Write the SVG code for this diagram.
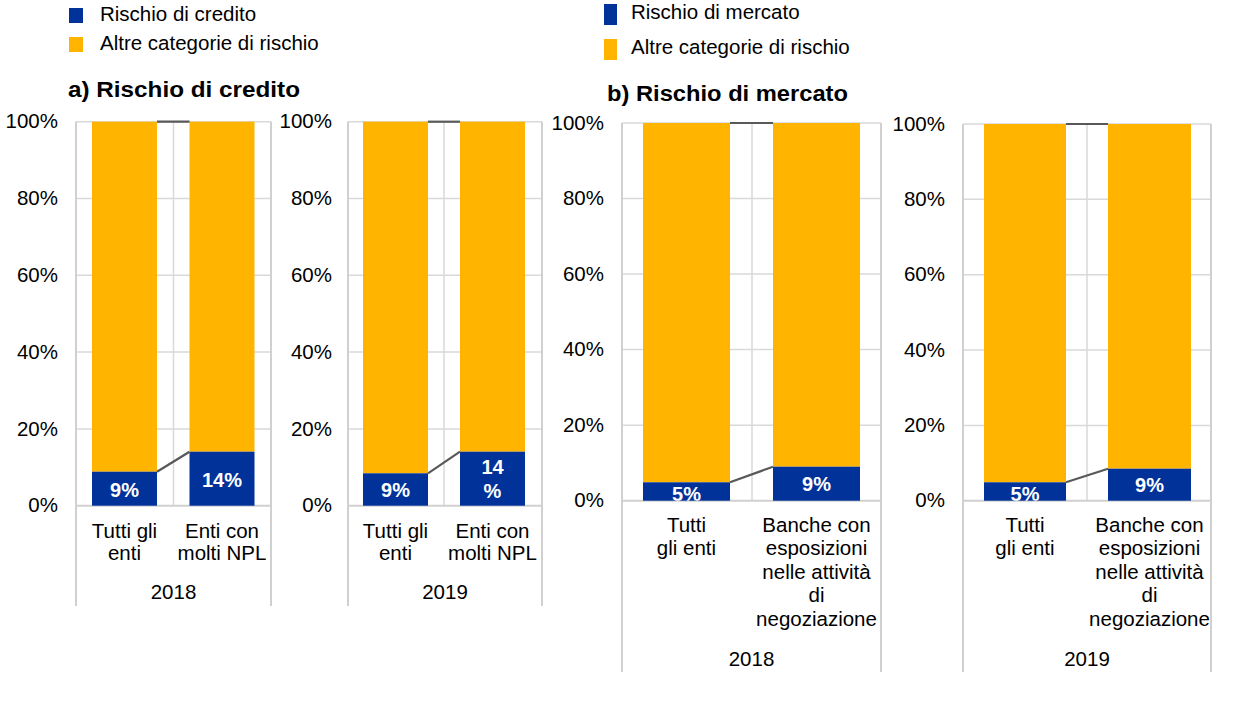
<svg xmlns="http://www.w3.org/2000/svg" width="1240" height="714" viewBox="0 0 1240 714">
<style>
text{font-family:"Liberation Sans",Arial,sans-serif;fill:#000}
.t{font-size:20.5px}
.ya{font-size:20.5px;text-anchor:end}
.c{font-size:20.5px;text-anchor:middle}
.v{font-size:20px;font-weight:bold;fill:#fff;text-anchor:middle}
.ti{font-size:22px;font-weight:bold}
.g{stroke:#D9D9D9;stroke-width:1.5;fill:none}
.ax{stroke:#D0D0D0;stroke-width:2;fill:none}
.blue{fill:#003299}
.or{fill:#FFB400}
.cn{stroke:#595959;stroke-width:2.2;fill:none}
</style>
<defs>
<clipPath id="cb1"><rect x="622" y="110" width="260" height="390.7"/></clipPath>
<clipPath id="cb2"><rect x="963" y="110" width="249" height="390.7"/></clipPath>
</defs>
<rect width="1240" height="714" fill="#fff"/>

<g id="legend-a">
<rect x="69" y="8" width="14" height="15" class="blue"/>
<text x="100" y="20.7" class="t">Rischio di credito</text>
<rect x="69" y="37" width="14" height="15" class="or"/>
<text x="100" y="49.5" class="t">Altre categorie di rischio</text>
</g>
<g id="legend-b">
<rect x="604" y="4" width="13" height="21" class="blue"/>
<text x="631" y="19" class="t">Rischio di mercato</text>
<rect x="604" y="39" width="13" height="21" class="or"/>
<text x="631" y="54" class="t">Altre categorie di rischio</text>
</g>

<text id="title-a" x="68" y="97" class="ti" textLength="232" lengthAdjust="spacingAndGlyphs">a) Rischio di credito</text>
<text id="title-b" x="607" y="101" class="ti" textLength="241" lengthAdjust="spacingAndGlyphs">b) Rischio di mercato</text>

<!-- Chart a 2018 -->
<g id="chart-a-2018">
<g class="g">
<line x1="76" y1="121.7" x2="271" y2="121.7"/>
<line x1="76" y1="198.5" x2="271" y2="198.5"/>
<line x1="76" y1="275.3" x2="271" y2="275.3"/>
<line x1="76" y1="352.1" x2="271" y2="352.1"/>
<line x1="76" y1="428.9" x2="271" y2="428.9"/>
<line x1="173.5" y1="121.7" x2="173.5" y2="505.7"/>
</g>
<g class="ax">
<line x1="76" y1="505.7" x2="271" y2="505.7"/>
<line x1="76" y1="121.7" x2="76" y2="606"/>
<line x1="271" y1="121.7" x2="271" y2="606"/>
</g>
<g class="ya">
<text x="58" y="128.3">100%</text>
<text x="58" y="205.1">80%</text>
<text x="58" y="281.9">60%</text>
<text x="58" y="358.7">40%</text>
<text x="58" y="435.5">20%</text>
<text x="58" y="512.3">0%</text>
</g>
<g id="a18-bar1">
<rect x="92" y="121.7" width="65" height="350" class="or"/>
<rect x="92" y="471.7" width="65" height="34" class="blue"/>
<text x="124.5" y="497.3" class="v">9%</text>
</g>
<g id="a18-bar2">
<rect x="189.5" y="121.7" width="65" height="330" class="or"/>
<rect x="189.5" y="451.7" width="65" height="54" class="blue"/>
<text x="222" y="487.3" class="v">14%</text>
</g>
<g class="c">
<text x="124.5" y="538.3">Tutti gli</text>
<text x="124.5" y="560.3">enti</text>
<text x="222" y="538.3">Enti con</text>
<text x="222" y="560.3">molti NPL</text>
<text x="173.5" y="599">2018</text>
</g>
</g>

<!-- Chart a 2019 -->
<g id="chart-a-2019">
<g class="g">
<line x1="348" y1="121.7" x2="542" y2="121.7"/>
<line x1="348" y1="198.5" x2="542" y2="198.5"/>
<line x1="348" y1="275.3" x2="542" y2="275.3"/>
<line x1="348" y1="352.1" x2="542" y2="352.1"/>
<line x1="348" y1="428.9" x2="542" y2="428.9"/>
<line x1="444" y1="121.7" x2="444" y2="505.7"/>
</g>
<g class="ax">
<line x1="348" y1="505.7" x2="542" y2="505.7"/>
<line x1="348" y1="121.7" x2="348" y2="606"/>
<line x1="542" y1="121.7" x2="542" y2="606"/>
</g>
<g class="ya">
<text x="332" y="128.3">100%</text>
<text x="332" y="205.1">80%</text>
<text x="332" y="281.9">60%</text>
<text x="332" y="358.7">40%</text>
<text x="332" y="435.5">20%</text>
<text x="332" y="512.3">0%</text>
</g>
<g id="a19-bar1">
<rect x="363" y="121.7" width="65" height="351.6" class="or"/>
<rect x="363" y="473.3" width="65" height="32.4" class="blue"/>
<text x="395.5" y="497.3" class="v">9%</text>
</g>
<g id="a19-bar2">
<rect x="460" y="121.7" width="65" height="330" class="or"/>
<rect x="460" y="451.7" width="65" height="54" class="blue"/>
<text x="492.5" y="474.3" class="v">14</text>
<text x="492.5" y="498.3" class="v">%</text>
</g>
<g class="c">
<text x="395.5" y="538.3">Tutti gli</text>
<text x="395.5" y="560.3">enti</text>
<text x="492.5" y="538.3">Enti con</text>
<text x="492.5" y="560.3">molti NPL</text>
<text x="445" y="599">2019</text>
</g>
</g>

<!-- Chart b 2018 -->
<g id="chart-b-2018">
<g class="g">
<line x1="622" y1="123" x2="881" y2="123"/>
<line x1="622" y1="198.5" x2="881" y2="198.5"/>
<line x1="622" y1="274.1" x2="881" y2="274.1"/>
<line x1="622" y1="349.6" x2="881" y2="349.6"/>
<line x1="622" y1="425.2" x2="881" y2="425.2"/>
<line x1="752" y1="123" x2="752" y2="500.7"/>
</g>
<g class="ax">
<line x1="622" y1="500.7" x2="881" y2="500.7"/>
<line x1="622" y1="123" x2="622" y2="672"/>
<line x1="881" y1="123" x2="881" y2="672"/>
</g>
<g class="ya">
<text x="604" y="129.6">100%</text>
<text x="604" y="205.1">80%</text>
<text x="604" y="280.7">60%</text>
<text x="604" y="356.2">40%</text>
<text x="604" y="431.8">20%</text>
<text x="604" y="507.3">0%</text>
</g>
<g id="b18-bar1">
<rect x="643" y="123" width="87" height="359.3" class="or"/>
<rect x="643" y="482.3" width="87" height="18.4" class="blue"/>
<text x="686.5" y="500.5" class="v" clip-path="url(#cb1)">5%</text>
</g>
<g id="b18-bar2">
<rect x="773" y="123" width="87" height="343.7" class="or"/>
<rect x="773" y="466.7" width="87" height="34" class="blue"/>
<text x="816.5" y="491" class="v">9%</text>
</g>
<g class="c">
<text x="686.5" y="531.7">Tutti</text>
<text x="686.5" y="555">gli enti</text>
<text x="816.5" y="531.7">Banche con</text>
<text x="816.5" y="555">esposizioni</text>
<text x="816.5" y="578.7">nelle attività</text>
<text x="816.5" y="602.3">di</text>
<text x="816.5" y="626">negoziazione</text>
<text x="751.5" y="665.5">2018</text>
</g>
</g>

<!-- Chart b 2019 -->
<g id="chart-b-2019">
<g class="g">
<line x1="963" y1="124" x2="1211" y2="124"/>
<line x1="963" y1="199.3" x2="1211" y2="199.3"/>
<line x1="963" y1="274.7" x2="1211" y2="274.7"/>
<line x1="963" y1="350" x2="1211" y2="350"/>
<line x1="963" y1="425.4" x2="1211" y2="425.4"/>
<line x1="1087" y1="124" x2="1087" y2="500.7"/>
</g>
<g class="ax">
<line x1="963" y1="500.7" x2="1211" y2="500.7"/>
<line x1="963" y1="124" x2="963" y2="672"/>
<line x1="1211" y1="124" x2="1211" y2="672"/>
</g>
<g class="ya">
<text x="945" y="130.6">100%</text>
<text x="945" y="205.9">80%</text>
<text x="945" y="281.3">60%</text>
<text x="945" y="356.6">40%</text>
<text x="945" y="432">20%</text>
<text x="945" y="507.3">0%</text>
</g>
<g id="b19-bar1">
<rect x="984" y="124" width="82" height="358.3" class="or"/>
<rect x="984" y="482.3" width="82" height="18.4" class="blue"/>
<text x="1025" y="500.5" class="v" clip-path="url(#cb2)">5%</text>
</g>
<g id="b19-bar2">
<rect x="1108" y="124" width="83" height="344.7" class="or"/>
<rect x="1108" y="468.7" width="83" height="32" class="blue"/>
<text x="1149.5" y="492.3" class="v">9%</text>
</g>
<g class="c">
<text x="1025" y="531.7">Tutti</text>
<text x="1025" y="555">gli enti</text>
<text x="1149.5" y="531.7">Banche con</text>
<text x="1149.5" y="555">esposizioni</text>
<text x="1149.5" y="578.7">nelle attività</text>
<text x="1149.5" y="602.3">di</text>
<text x="1149.5" y="626">negoziazione</text>
<text x="1087" y="665.5">2019</text>
</g>
</g>

<g id="connectors" class="cn">
<line x1="157" y1="121.7" x2="189.5" y2="121.7"/>
<line x1="157" y1="471.7" x2="189.5" y2="451.7"/>
<line x1="428" y1="121.7" x2="460" y2="121.7"/>
<line x1="428" y1="473.3" x2="460" y2="451.7"/>
<line x1="730" y1="123" x2="773" y2="123"/>
<line x1="730" y1="482.3" x2="773" y2="466.7"/>
<line x1="1066" y1="124" x2="1108" y2="124"/>
<line x1="1066" y1="482.3" x2="1108" y2="468.7"/>
</g>
</svg>
